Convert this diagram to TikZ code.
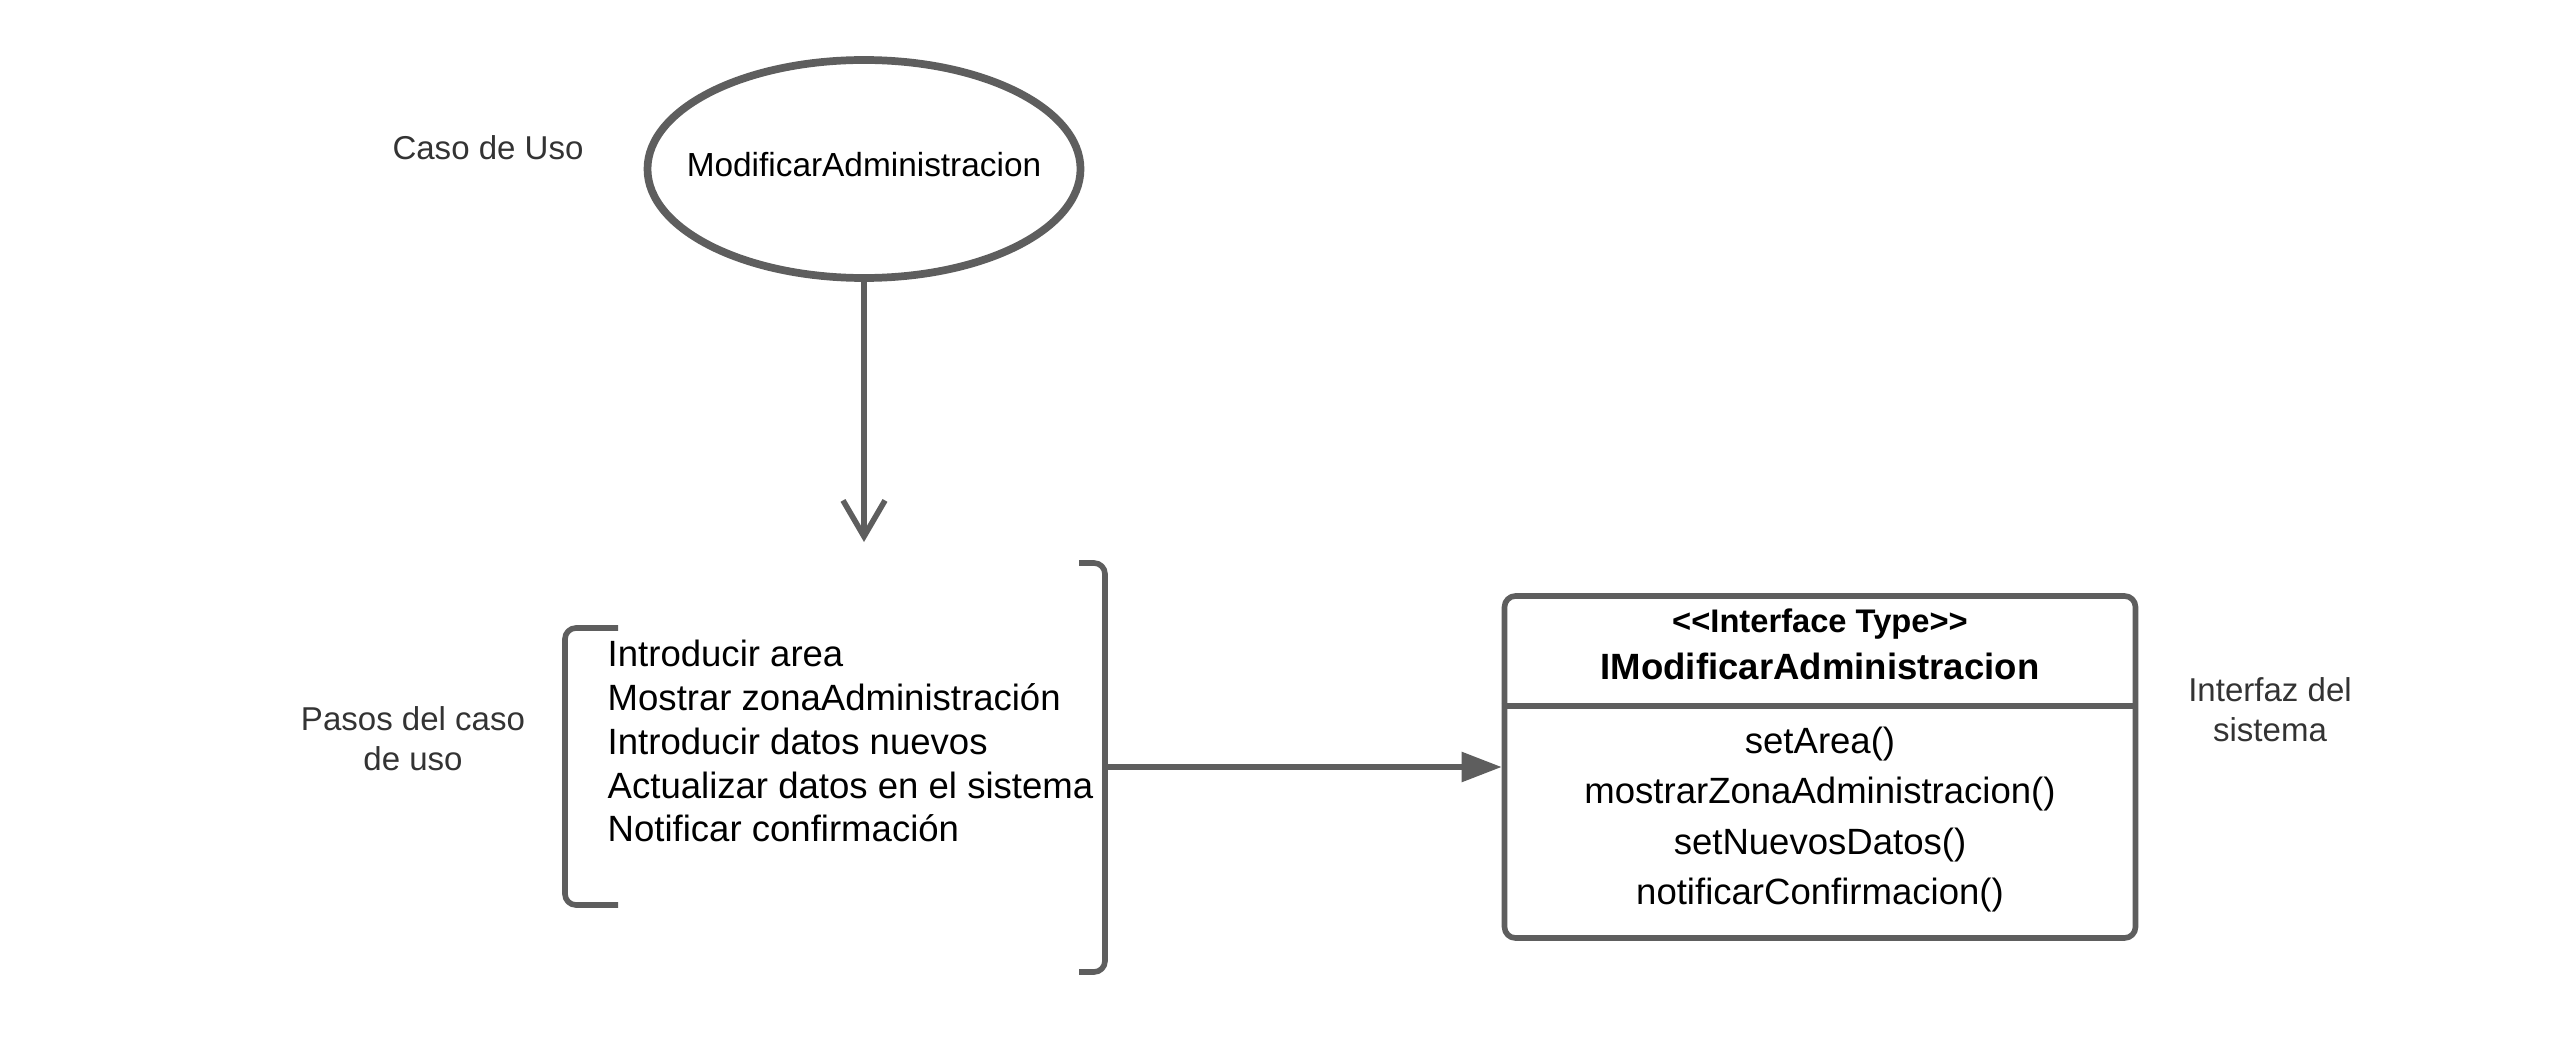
\documentclass[tikz,border=0pt]{standalone}
\usepackage{fontspec}
\setmainfont{Liberation Sans}
\usetikzlibrary{arrows.meta,shapes.geometric}
\definecolor{linea}{HTML}{5E5E5E}
\definecolor{gristexto}{HTML}{333333}
\begin{document}
\begin{tikzpicture}[x=0.1mm,y=-0.1mm, line join=round,
	trazo/.style={draw=linea, line width=1.6pt},
	rotulo/.style={text=gristexto, font=\fontsize{9.4}{11.4}\selectfont, align=center, inner sep=0pt},
	paso/.style={font=\fontsize{10.4}{12.5}\selectfont, align=left, inner sep=0pt},
	metodo/.style={font=\fontsize{10.4}{12.5}\selectfont, inner sep=0pt}]
	\useasboundingbox (0,0) rectangle (2552,1050);
	% caso de uso
	\node[trazo, line width=2.2pt, ellipse, inner sep=0pt, minimum width=43.3mm, minimum height=21.8mm] (caso) at (864,169) {};
	\node[font=\fontsize{9.5}{11}\selectfont, inner sep=0pt] (nombrecaso) at (864,165) {ModificarAdministracion};
	\coordinate (fin) at (864,542);
	\draw[trazo, -{Straight Barb[length=3.6mm, width=4.2mm]}] (caso.south) -- (fin);
	% pasos
	\node[paso, anchor=west] (pasos) at (607,741) {Introducir area\\Mostrar zonaAdministración\\Introducir datos nuevos\\Actualizar datos en el sistema\\Notificar confirmación};
	\draw[trazo, rounded corners=1.1mm] (618,628) -- (565,628) -- (565,905) -- (618,905);
	\draw[trazo, rounded corners=1.1mm] (1079,563) -- (1105,563) -- (1105,972) -- (1079,972);
	\coordinate (salida) at (1105,767);
	% interfaz
	\node[trazo, rounded corners=1.1mm, minimum width=63.1mm, minimum height=34.2mm] (interfaz) at (1820,767) {};
	\draw[trazo] (interfaz.west |- 0,706) -- (interfaz.east |- 0,706);
	\node[font=\bfseries\fontsize{9.3}{11}\selectfont, inner sep=0pt] (tipo) at (1820,624) {<{}<Interface Type>{}>};
	\node[font=\bfseries\fontsize{10.4}{12}\selectfont, inner sep=0pt] (nombre) at (1820,666) {IModificarAdministracion};
	\foreach \m [count=\i] in {setArea(), mostrarZonaAdministracion(), setNuevosDatos(), notificarConfirmacion()}
		\node[metodo] (m\i) at (1820,{693.7+50.3*\i}) {\m};
	\draw[trazo, -{Triangle[length=4mm, width=2.9mm]}] (salida) -- (interfaz.west);
	% rotulos
	\node[rotulo] (lcaso) at (488,148) {Caso de Uso};
	\node[rotulo] (lpasos) at (413,739) {Pasos del caso\\de uso};
	\node[rotulo] (linterfaz) at (2270,710) {Interfaz del\\sistema};
\end{tikzpicture}
\end{document}
